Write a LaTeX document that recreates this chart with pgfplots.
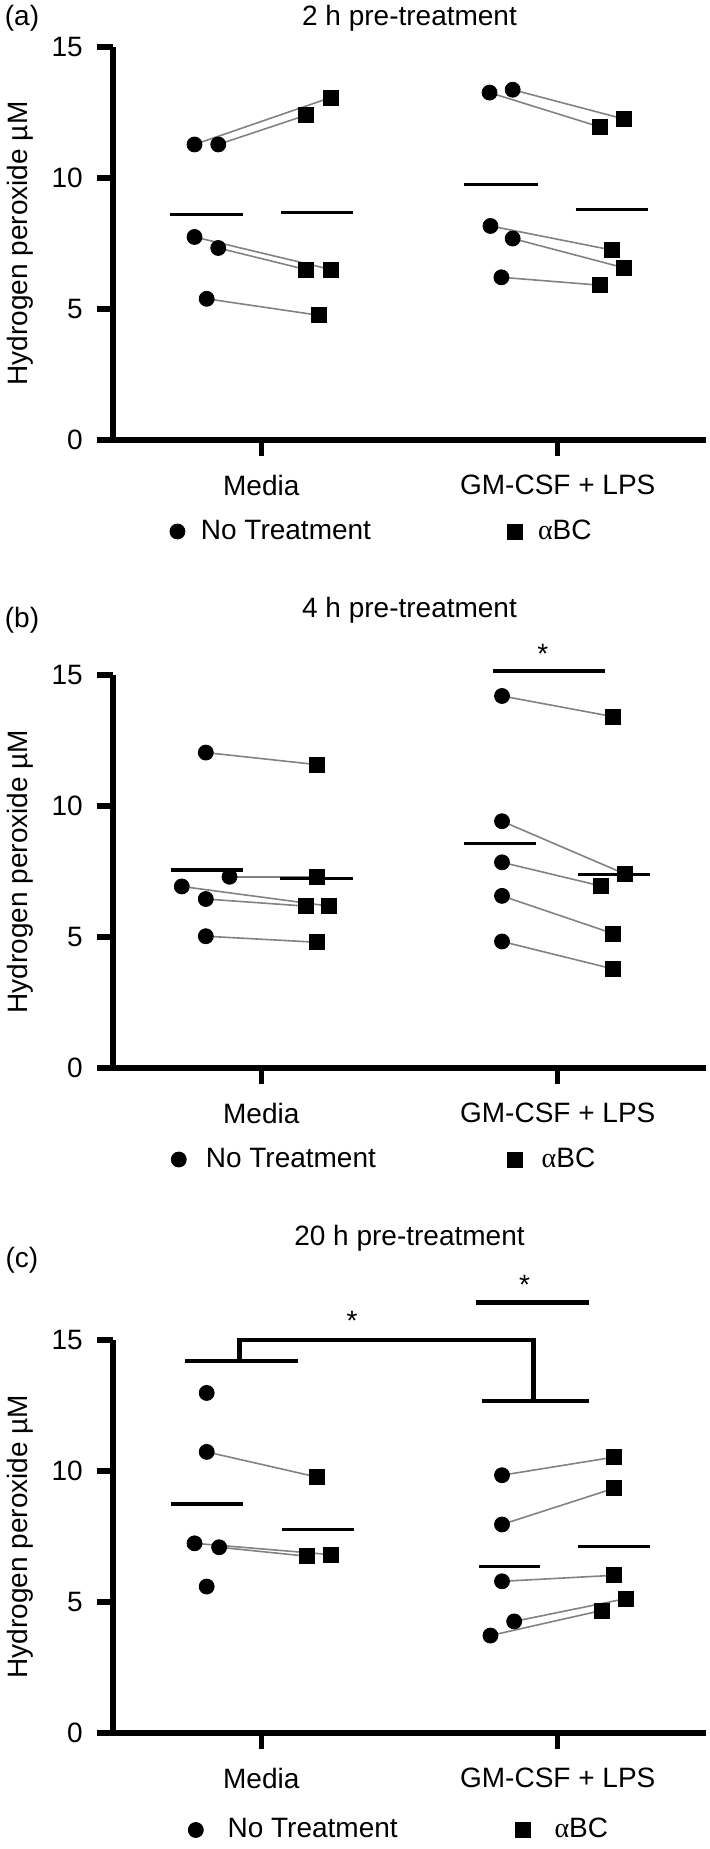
\documentclass[border=0pt]{standalone}
\usepackage{fontspec}
\setmainfont{Liberation Sans}
\newfontfamily\serifgreek{Liberation Serif}
\usepackage{pgfplots}
\pgfplotsset{compat=1.18}
\definecolor{conngray}{RGB}{130,130,130}
\pgfplotsset{
 hp/.style={
  width=296.5pt, height=196.5pt, scale only axis,
  xmin=-0.5, xmax=1.5, ymin=0, ymax=15,
  axis x line=bottom, axis y line=left,
  axis line style={line width=2.7pt, -},
  xtick={0,1}, xticklabels={Media, GM-CSF + LPS},
  ytick={0,5,10,15},
  tick align=outside, major tick length=8pt,
  tick style={line width=2.7pt, black},
  xticklabel style={yshift=-4.5pt},
  yticklabel style={xshift=-2.3pt},
  clip=false,
  ylabel={Hydrogen peroxide µM},
  every axis y label/.style={at={(axis description cs:-0.157,0.5)}, rotate=90, anchor=center},
  /pgf/number format/assume math mode=true,
  legend columns=2,
  legend cell align=left,
 },
 limg/.style={legend image code/.code={\draw[##1] plot coordinates {(0pt,0pt)}; \path (-4pt,-4pt) (#1,4pt);}},
 nt/.style={only marks, mark=*, mark size=3.75pt, black},
 bc/.style={only marks, mark=square*, mark size=3.75pt, black},
 cn/.style={conngray, line width=0.8pt, forget plot},
 mean/.style={black, line width=1.65pt, forget plot},
 sig/.style={black, line width=2.4pt, forget plot},
}
\newcommand{\aBC}{{\serifgreek α}BC}
\begin{document}
\fontsize{14}{17}\selectfont
\begin{tikzpicture}
\path[use as bounding box] (0,0) rectangle (354.5pt,-924.5pt);
% ---------------- (a)
\node at (11pt,-9pt) {(a)};
\begin{axis}[hp, at={(56.5pt,-23.5pt)}, anchor=north west,
  title={2 h pre-treatment},
  title style={at={(axis description cs:0.5,1)}, anchor=center, yshift=8.5pt},
  limg=9.5pt,
  legend style={draw=none, fill=none, inner sep=0pt, at={(axis description cs:0.0939,-0.2328)}, anchor=west, /tikz/every even column/.append style={column sep=65.6pt}}]
\addplot[cn] coordinates {(-0.225,11.28) (0.234,13.07)};
\addplot[cn] coordinates {(-0.145,11.28) (0.149,12.39)};
\addplot[cn] coordinates {(-0.225,7.75) (0.234,6.51)};
\addplot[cn] coordinates {(-0.145,7.33) (0.149,6.51)};
\addplot[cn] coordinates {(-0.184,5.39) (0.195,4.76)};
\addplot[cn] coordinates {(0.770,13.26) (1.142,11.95)};
\addplot[cn] coordinates {(0.848,13.37) (1.224,12.25)};
\addplot[cn] coordinates {(0.773,8.17) (1.183,7.25)};
\addplot[cn] coordinates {(0.848,7.69) (1.224,6.57)};
\addplot[cn] coordinates {(0.810,6.21) (1.142,5.91)};
\addplot[mean] coordinates {(-0.309,8.61) (-0.061,8.61)};
\addplot[mean] coordinates {(0.067,8.69) (0.310,8.69)};
\addplot[mean] coordinates {(0.684,9.76) (0.933,9.76)};
\addplot[mean] coordinates {(1.060,8.81) (1.305,8.81)};
\addplot[nt] coordinates {(-0.225,11.28) (-0.145,11.28) (-0.225,7.75) (-0.145,7.33) (-0.184,5.39)
  (0.770,13.26) (0.848,13.37) (0.773,8.17) (0.848,7.69) (0.810,6.21)};
\addlegendentry{No Treatment}
\addplot[bc] coordinates {(0.149,12.39) (0.234,13.07) (0.149,6.51) (0.234,6.51) (0.195,4.76)
  (1.142,11.95) (1.224,12.25) (1.183,7.25) (1.224,6.57) (1.142,5.91)};
\addlegendentry{\aBC}
\end{axis}
% ---------------- (b)
\node at (11pt,-310pt) {(b)};
\begin{axis}[hp, at={(56.5pt,-337.5pt)}, anchor=north west,
  title={4 h pre-treatment},
  title style={at={(axis description cs:0.5,1)}, anchor=center, yshift=26.5pt},
  limg=11.3pt,
  legend style={draw=none, fill=none, inner sep=0pt, at={(axis description cs:0.0961,-0.2328)}, anchor=west, /tikz/every even column/.append style={column sep=63.2pt}}]
\addplot[cn] coordinates {(-0.187,12.04) (0.188,11.58)};
\addplot[cn] coordinates {(-0.107,7.30) (0.188,7.30)};
\addplot[cn] coordinates {(-0.268,6.93) (0.228,6.18)};
\addplot[cn] coordinates {(-0.187,6.45) (0.149,6.18)};
\addplot[cn] coordinates {(-0.187,5.03) (0.188,4.80)};
\addplot[cn] coordinates {(0.812,14.20) (1.187,13.41)};
\addplot[cn] coordinates {(0.812,9.42) (1.228,7.40)};
\addplot[cn] coordinates {(0.812,7.85) (1.145,6.95)};
\addplot[cn] coordinates {(0.812,6.57) (1.187,5.13)};
\addplot[cn] coordinates {(0.812,4.83) (1.187,3.78)};
\addplot[mean] coordinates {(-0.306,7.56) (-0.061,7.56)};
\addplot[mean] coordinates {(0.064,7.23) (0.309,7.23)};
\addplot[mean] coordinates {(0.683,8.58) (0.928,8.58)};
\addplot[mean] coordinates {(1.069,7.38) (1.312,7.38)};
\addplot[sig] coordinates {(0.780,15.15) (1.160,15.15)};
\node[yshift=-3pt] at (axis cs:0.950,16.05) {*};
\addplot[nt] coordinates {(-0.187,12.04) (-0.268,6.93) (-0.107,7.30) (-0.187,6.45) (-0.187,5.03)
  (0.812,14.20) (0.812,9.42) (0.812,7.85) (0.812,6.57) (0.812,4.83)};
\addlegendentry{No Treatment}
\addplot[bc] coordinates {(0.188,11.58) (0.188,7.30) (0.149,6.18) (0.228,6.18) (0.188,4.80)
  (1.187,13.41) (1.145,6.95) (1.228,7.40) (1.187,5.13) (1.187,3.78)};
\addlegendentry{\aBC}
\end{axis}
% ---------------- (c)
\node at (11pt,-630pt) {(c)};
\begin{axis}[hp, at={(56.5pt,-670pt)}, anchor=north west,
  title={20 h pre-treatment},
  title style={at={(axis description cs:0.5,1)}, anchor=center, yshift=45pt},
  limg=13.7pt,
  legend style={draw=none, fill=none, inner sep=0pt, at={(axis description cs:0.1248,-0.2468)}, anchor=west, /tikz/every even column/.append style={column sep=56.3pt}}]
\addplot[cn] coordinates {(-0.184,10.73) (0.188,9.77)};
\addplot[cn] coordinates {(-0.225,7.24) (0.234,6.81)};
\addplot[cn] coordinates {(-0.142,7.09) (0.153,6.75)};
\addplot[cn] coordinates {(0.812,9.84) (1.190,10.53)};
\addplot[cn] coordinates {(0.812,7.96) (1.190,9.34)};
\addplot[cn] coordinates {(0.812,5.79) (1.190,6.02)};
\addplot[cn] coordinates {(0.853,4.26) (1.230,5.13)};
\addplot[cn] coordinates {(0.773,3.72) (1.149,4.68)};
\addplot[mean] coordinates {(-0.306,8.74) (-0.061,8.74)};
\addplot[mean] coordinates {(0.069,7.78) (0.314,7.78)};
\addplot[mean] coordinates {(0.735,6.35) (0.939,6.35)};
\addplot[mean] coordinates {(1.069,7.13) (1.312,7.13)};
\addplot[sig] coordinates {(-0.256,14.20) (0.1225,14.20)};
\addplot[sig] coordinates {(-0.0735,14.20) (-0.0735,15.0) (0.919,15.0) (0.919,12.67)};
\addplot[sig] coordinates {(0.743,12.67) (1.104,12.67)};
\addplot[sig] coordinates {(0.724,16.42) (1.104,16.42)};
\node[yshift=-3pt] at (axis cs:0.306,15.96) {*};
\node[yshift=-3pt] at (axis cs:0.888,17.34) {*};
\addplot[nt] coordinates {(-0.184,12.98) (-0.184,10.73) (-0.225,7.24) (-0.142,7.09) (-0.184,5.59)
  (0.812,9.84) (0.812,7.96) (0.812,5.79) (0.853,4.26) (0.773,3.72)};
\addlegendentry{No Treatment}
\addplot[bc] coordinates {(0.188,9.77) (0.153,6.75) (0.234,6.81)
  (1.190,10.53) (1.190,9.34) (1.190,6.02) (1.230,5.13) (1.149,4.68)};
\addlegendentry{\aBC}
\end{axis}
\end{tikzpicture}
\end{document}
